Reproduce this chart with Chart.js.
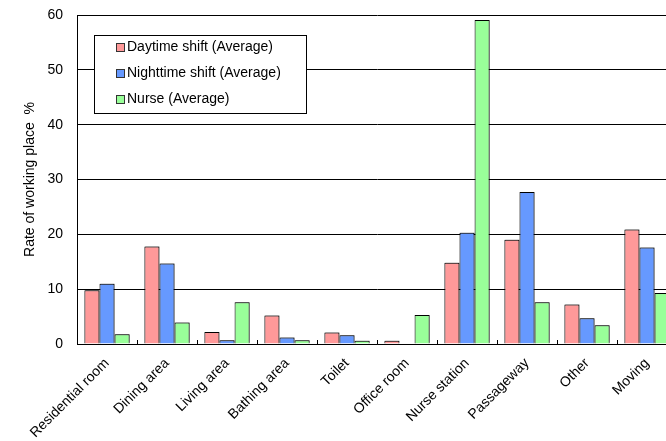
<!DOCTYPE html>
<html>
<head>
<meta charset="utf-8">
<script src="https://cdn.jsdelivr.net/npm/chart.js@4/dist/chart.umd.min.js"></script>
<style>
  html, body { margin: 0; padding: 0; background: #fff; }
  #wrap { width: 666px; height: 441px; overflow: hidden; position: relative; }
  #box { width: 680px; height: 441px; position: absolute; left: 0; top: 0; }
</style>
</head>
<body>
<div id="wrap"><div id="box"><canvas id="c"></canvas></div></div>
<script>
const places = ['Residential room', 'Dining area', 'Living area', 'Bathing area', 'Toilet',
                'Office room', 'Nurse station', 'Passageway', 'Other', 'Moving'];
const daytimeShift   = [9.8, 17.8, 2.2, 5.2, 2.1, 0.6, 14.8, 19.0, 7.2, 20.9];
const nighttimeShift = [11.0, 14.7, 0.7, 1.2, 1.6, 0.1, 20.3, 27.7, 4.7, 17.6];
const nurse          = [1.8, 3.9, 7.6, 0.7, 0.6, 5.3, 59.1, 7.6, 3.4, 9.3];
const yTicks = [0, 10, 20, 30, 40, 50, 60];

const FONT = 'Arial, "Liberation Sans", sans-serif';

// Legend drawn as a boxed panel inside the plot area
const boxedLegend = {
  id: 'boxedLegend',
  afterDraw(chart) {
    const ctx = chart.ctx;
    const x0 = 94, y0 = 35, w = 212, h = 78;
    ctx.save();
    ctx.fillStyle = '#fff';
    ctx.fillRect(x0, y0, w, h);
    ctx.strokeStyle = '#000';
    ctx.lineWidth = 1;
    ctx.strokeRect(x0 + 0.5, y0 + 0.5, w, h);
    ctx.font = '14px ' + FONT;
    ctx.textBaseline = 'middle';
    chart.data.datasets.forEach((ds, i) => {
      const cy = 47 + i * 26;
      ctx.fillStyle = ds.backgroundColor;
      ctx.fillRect(116, cy - 4, 9, 9);
      ctx.strokeStyle = '#333';
      ctx.strokeRect(116.5, cy - 3.5, 8, 8);
      ctx.fillStyle = '#000';
      ctx.fillText(ds.label, 127, cy + 0.5);
    });
    ctx.restore();
  }
};

// Short inward tick marks at the category boundaries on the baseline
const innerTicks = {
  id: 'innerTicks',
  afterDatasetsDraw(chart) {
    const x = chart.scales.x, y = chart.scales.y;
    const ctx = chart.ctx;
    const base = Math.round(y.getPixelForValue(0));
    ctx.save();
    ctx.strokeStyle = '#000';
    ctx.lineWidth = 1;
    ctx.beginPath();
    for (let i = 0; i < places.length - 1; i++) {
      const px = Math.round((x.getPixelForValue(i) + x.getPixelForValue(i + 1)) / 2) + 0.5;
      ctx.moveTo(px, base);
      ctx.lineTo(px, base - 4);
    }
    ctx.stroke();
    ctx.restore();
  }
};

// Slight grey drop shadow behind the bars
const barShadow = {
  id: 'barShadow',
  beforeDatasetsDraw(chart) {
    const ctx = chart.ctx;
    ctx.save();
    ctx.shadowColor = 'rgba(0,0,0,0.35)';
    ctx.shadowOffsetX = 1;
    ctx.shadowOffsetY = -1;
    ctx.shadowBlur = 0;
  },
  afterDatasetsDraw(chart) {
    chart.ctx.restore();
  }
};

new Chart(document.getElementById('c'), {
  type: 'bar',
  data: {
    labels: places,
    datasets: [
      { label: 'Daytime shift (Average)', data: daytimeShift, backgroundColor: '#FF9999' },
      { label: 'Nighttime shift (Average)', data: nighttimeShift, backgroundColor: '#6699FF' },
      { label: 'Nurse (Average)', data: nurse, backgroundColor: '#99FF99' }
    ]
  },
  options: {
    responsive: true,
    maintainAspectRatio: false,
    animation: false,
    layout: { padding: { top: 15, right: 3, left: 0, bottom: 0 } },
    datasets: {
      bar: {
        borderColor: '#000',
        borderWidth: 1,
        categoryPercentage: 0.755,
        barPercentage: 1.0
      }
    },
    plugins: {
      legend: { display: false },
      tooltip: { enabled: false }
    },
    scales: {
      x: {
        grid: { display: false },
        border: { color: '#000', width: 1 },
        ticks: {
          color: '#000',
          font: { family: FONT, size: 14 },
          maxRotation: 45,
          minRotation: 45,
          padding: 3,
          autoSkip: false
        },
        afterFit(scale) { scale.height = 97; }
      },
      y: {
        min: 0,
        max: 60,
        afterBuildTicks(scale) { scale.ticks = yTicks.map(v => ({ value: v })); },
        grid: { color: '#000', lineWidth: 1, drawTicks: true, tickLength: 14, tickColor: 'rgba(0,0,0,0)' },
        border: { color: '#000', width: 1 },
        ticks: {
          color: '#000',
          font: { family: FONT, size: 14 },
          padding: 0
        },
        title: {
          display: true,
          text: 'Rate of working place  %',
          color: '#000',
          font: { family: FONT, size: 14 },
          padding: { top: 22, bottom: 0 }
        },
        afterFit(scale) { scale.width = 77; }
      }
    }
  },
  plugins: [barShadow, innerTicks, boxedLegend]
});
</script>
</body>
</html>
